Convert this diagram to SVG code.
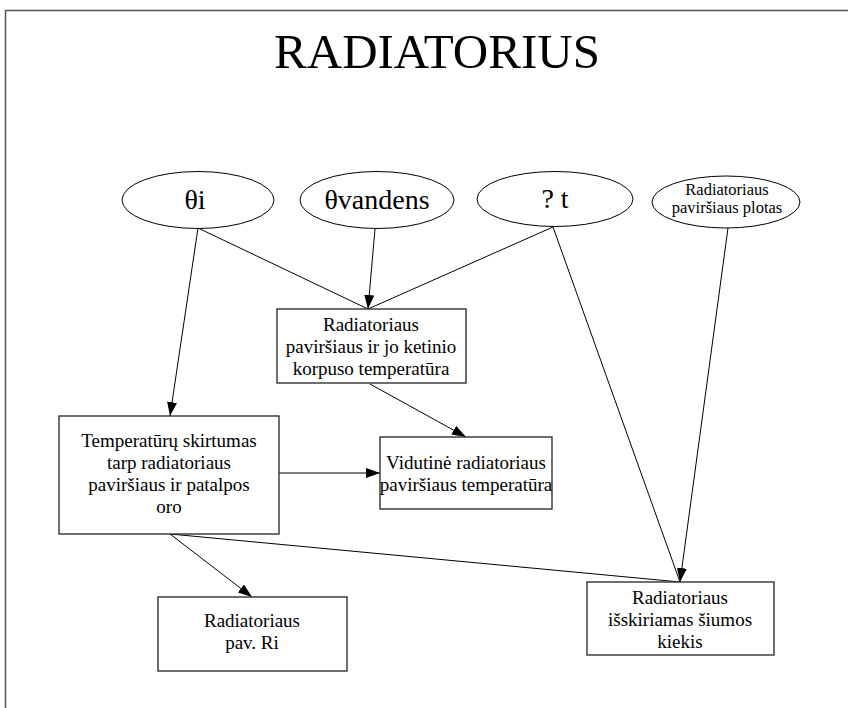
<svg xmlns="http://www.w3.org/2000/svg" width="848" height="708" viewBox="0 0 848 708">
<defs>
<style>
text{fill:#000;text-anchor:middle}
.t{font-size:49px}
.e{font-size:28px}
.s{font-size:16.5px}
.b{font-size:19px}
ellipse{fill:#fff;stroke:#000;stroke-width:1}
rect.n{fill:#fff;stroke:#333;stroke-width:1.4}
.c line{stroke:#000;stroke-width:1}
</style>
<marker id="ah" viewBox="0 0 14 10" refX="14" refY="5" markerWidth="14" markerHeight="10" markerUnits="userSpaceOnUse" orient="auto">
<path d="M0,0 L14,5 L0,10 z" fill="#000"/>
</marker>
</defs>
<rect x="0" y="0" width="848" height="708" fill="#fff"/>
<rect x="5.5" y="10.5" width="900" height="800" fill="none" stroke="#555" stroke-width="1.5"/>
<g font-family="'Liberation Serif', 'Times New Roman', 'DejaVu Serif', serif">
<text class="t" x="437" y="68">RADIATORIUS</text>

<g class="c" id="connectors">
<line x1="198" y1="228" x2="170" y2="416" marker-end="url(#ah)"/>
<line x1="198" y1="228" x2="368" y2="309"/>
<line x1="553" y1="227" x2="368" y2="309"/>
<line x1="375" y1="229" x2="368" y2="309" marker-end="url(#ah)"/>
<line x1="370" y1="384" x2="466" y2="437" marker-end="url(#ah)"/>
<line x1="279" y1="473" x2="380" y2="473" marker-end="url(#ah)"/>
<line x1="170" y1="534" x2="252" y2="597" marker-end="url(#ah)"/>
<line x1="170" y1="534" x2="680" y2="582"/>
<line x1="553" y1="227" x2="680" y2="582"/>
<line x1="728" y1="228" x2="680" y2="582" marker-end="url(#ah)"/>
</g>

<g id="n_theta_i">
<ellipse cx="198" cy="200" rx="76" ry="28.5"/>
<text class="e" x="195" y="209">θi</text>
</g>
<g id="n_theta_vandens">
<ellipse cx="377" cy="200" rx="77" ry="28.5"/>
<text class="e" x="377" y="209">θvandens</text>
</g>
<g id="n_dt">
<ellipse cx="555" cy="199" rx="78" ry="27.5"/>
<text class="e" x="555" y="208">? t</text>
</g>
<g id="n_plotas">
<ellipse cx="726" cy="202" rx="74" ry="26"/>
<text class="s" x="727" y="195">Radiatoriaus</text>
<text class="s" x="727" y="213">paviršiaus plotas</text>
</g>

<g id="n_korpuso">
<rect class="n" x="277" y="309" width="189" height="74"/>
<text class="b" x="371" y="331">Radiatoriaus</text>
<text class="b" x="371" y="353">paviršiaus ir jo ketinio</text>
<text class="b" x="371" y="375">korpuso temperatūra</text>
</g>
<g id="n_skirtumas">
<rect class="n" x="59" y="416" width="220" height="118"/>
<text class="b" x="169" y="447">Temperatūrų skirtumas</text>
<text class="b" x="169" y="469">tarp radiatoriaus</text>
<text class="b" x="169" y="491">paviršiaus ir patalpos</text>
<text class="b" x="169" y="513">oro</text>
</g>
<g id="n_vidutine">
<rect class="n" x="380" y="437" width="172" height="72"/>
<text class="b" x="466" y="469">Vidutinė radiatoriaus</text>
<text class="b" x="466" y="491">paviršiaus temperatūra</text>
</g>
<g id="n_ri">
<rect class="n" x="158" y="597" width="189" height="74"/>
<text class="b" x="252" y="627">Radiatoriaus</text>
<text class="b" x="252" y="649">pav. Ri</text>
</g>
<g id="n_kiekis">
<rect class="n" x="587" y="582" width="187" height="73"/>
<text class="b" x="680" y="604">Radiatoriaus</text>
<text class="b" x="680" y="626">išskiriamas šiumos</text>
<text class="b" x="680" y="648">kiekis</text>
</g>
</g>
</svg>
